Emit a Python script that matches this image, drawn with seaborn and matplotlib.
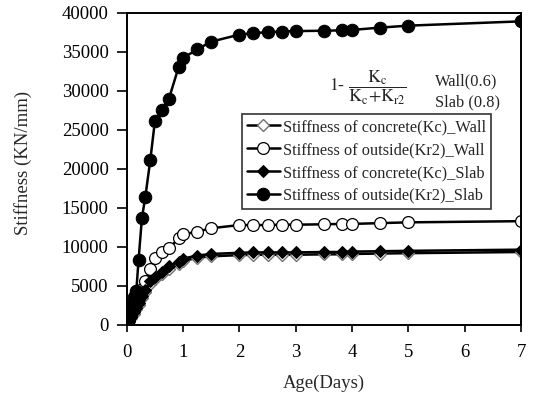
import matplotlib
matplotlib.use("Agg")
import matplotlib.pyplot as plt
import seaborn as sns

days = [0, 0.04, 0.08, 0.125, 0.17, 0.21, 0.27, 0.33, 0.42, 0.5, 0.63, 0.75, 0.92, 1.0,
        1.25, 1.5, 2, 2.25, 2.5, 2.75, 3, 3.5, 3.83, 4, 4.5, 5, 7]

kc_wall = [0, 450, 900, 1400, 2000, 2600, 3400, 4200, 5300, 5900, 6500, 7200, 7800, 8200,
           8600, 8800, 8950, 9000, 9000, 9000, 9000, 9050, 9050, 9100, 9150, 9200, 9350]
kr2_wall = [0, 600, 1300, 2000, 2700, 3500, 4600, 5600, 7200, 8600, 9300, 9800, 11100, 11600,
            11950, 12400, 12800, 12800, 12800, 12850, 12850, 12900, 12950, 12950, 13050, 13150, 13300]
kc_slab = [0, 500, 1000, 1600, 2200, 2800, 3700, 4500, 5600, 6200, 6800, 7500, 8100, 8500,
           8900, 9100, 9250, 9300, 9300, 9300, 9300, 9350, 9350, 9400, 9450, 9500, 9650]
kr2_slab = [0, 1200, 2600, 3600, 4300, 8300, 13700, 16400, 21200, 26100, 27600, 29000, 33000, 34200,
            35300, 36300, 37200, 37400, 37500, 37600, 37650, 37700, 37750, 37800, 38100, 38350, 38900]

labels = ["Stiffness of concrete(Kc)_Wall", "Stiffness of outside(Kr2)_Wall",
          "Stiffness of concrete(Kc)_Slab", "Stiffness of outside(Kr2)_Slab"]
x_ticks = [0, 1, 2, 3, 4, 5, 6, 7]
y_ticks = [0, 5000, 10000, 15000, 20000, 25000, 30000, 35000, 40000]

sns.set_style("white")
plt.rcParams["font.family"] = ["Liberation Serif", "DejaVu Serif"]
plt.rcParams["mathtext.fontset"] = "stix"

fig = plt.figure(figsize=(5.36, 3.99), dpi=100)
ax = fig.add_axes([0.2364, 0.1855, 0.7356, 0.7825])

sns.lineplot(x=days, y=kc_wall, ax=ax, color="black", lw=1.8, marker="D", markersize=6.5,
             markerfacecolor="white", markeredgecolor="#707070", markeredgewidth=1.0, label=labels[0])
sns.lineplot(x=days, y=kr2_wall, ax=ax, color="black", lw=1.8, marker="o", markersize=8.5,
             markerfacecolor="white", markeredgecolor="black", markeredgewidth=0.9, label=labels[1])
sns.lineplot(x=days, y=kc_slab, ax=ax, color="black", lw=1.8, marker="D", markersize=6.5,
             markerfacecolor="black", markeredgecolor="black", label=labels[2])
sns.lineplot(x=days, y=kr2_slab, ax=ax, color="black", lw=1.8, marker="o", markersize=9,
             markerfacecolor="black", markeredgecolor="black", label=labels[3])

ax.set_xlim(0, 7)
ax.set_ylim(0, 40000)
ax.set_xticks(x_ticks)
ax.set_yticks(y_ticks)
ax.tick_params(axis="both", which="both", direction="out", width=1.2,
               labelsize=13.5, colors="black", bottom=True, left=True, top=False, right=False)
ax.tick_params(axis="y", length=7, pad=6)
ax.tick_params(axis="x", length=5, pad=9)
ax.set_xticklabels([str(v) for v in x_ticks])
ax.set_yticklabels([str(v) for v in y_ticks])
for s in ax.spines.values():
    s.set_color("black")
    s.set_linewidth(1.4)

ax.set_xlabel("Age(Days)", fontsize=13.5)
ax.set_ylabel("Stiffness (KN/mm)", fontsize=13.5)
ax.xaxis.set_label_coords(0.5, -0.16)
ax.yaxis.set_label_coords(-0.24, 0.52)

leg = ax.legend(loc="upper left", bbox_to_anchor=(0.292, 0.675), borderaxespad=0,
                fontsize=11.8, frameon=True, fancybox=False, handlelength=2.0,
                handletextpad=0.2, borderpad=0.3, labelspacing=0.42)
leg.get_frame().set_edgecolor("black")
leg.get_frame().set_linewidth(1.2)

ax.text(0.512, 0.759, r"$\mathrm{1}$- $\dfrac{\mathrm{K_c}}{\mathrm{K_c\!+\!K_{r2}}}$",
        transform=ax.transAxes, fontsize=12.8, va="center", ha="left")
ax.text(0.782, 0.781, "Wall(0.6)", transform=ax.transAxes, fontsize=11.8, va="center")
ax.text(0.782, 0.714, "Slab (0.8)", transform=ax.transAxes, fontsize=11.8, va="center")

fig.savefig("out.png", dpi=100)
